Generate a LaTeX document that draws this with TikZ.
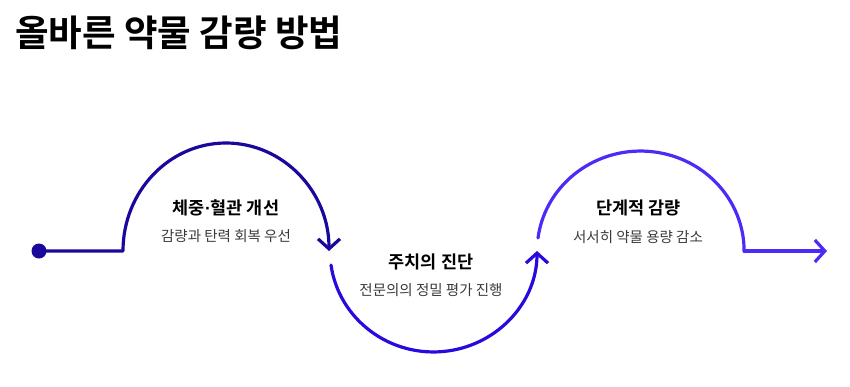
\documentclass[tikz,border=0pt]{standalone}
\usepackage{fontspec}
\setmainfont{Noto Sans CJK KR}[BoldFont={Noto Sans CJK KR Bold}]
\newfontfamily\latinfont{Liberation Sans}
\usetikzlibrary{arrows.meta}
\definecolor{cA}{RGB}{26,8,156}
\definecolor{cB}{RGB}{38,10,222}
\definecolor{cC}{RGB}{74,44,246}
\definecolor{subgray}{RGB}{58,58,58}
\tikzset{
  flow/.style={line width=3.2pt, line cap=round, line join=round},
  tip/.style={-{Straight Barb[length=10pt,width=22pt,line width=3.2pt]}},
  headtxt/.style={font=\bfseries\fontsize{17.5}{20}\selectfont, text=black, inner sep=0pt},
  subtxt/.style={font=\fontsize{14.5}{17}\selectfont, text=subgray, inner sep=0pt},
}
\begin{document}
\begin{tikzpicture}[x=1pt,y=-1pt]
\useasboundingbox (0,0) rectangle (850,386);
% title
\node[anchor=west, inner sep=0pt, font=\bfseries\fontsize{36.5}{40}\selectfont] (title) at (15,33) {올바른 약물 감량 방법};
% path points
\node[circle, fill=cA, draw=none, minimum size=15pt, inner sep=0pt] (start) at (39,251) {};
\coordinate (a1) at (123,251);
\coordinate (a2s) at (331,265);
\coordinate (a3s) at (538,238);
\coordinate (a4) at (744,251);
\coordinate (endp) at (827,251);
% segment 1
\draw[flow, cA, tip] (start.center) -- (a1) arc[start angle=180, end angle=360, x radius=103, y radius=108];
% segment 2
\draw[flow, cB, tip] (a2s) arc[start angle=172, end angle=0, x radius=103.5, y radius=101];
% segment 3
\draw[flow, cC] (a3s) arc[start angle=187.5, end angle=360, x radius=103.5, y radius=100] -- (a4);
\draw[flow, cC, tip] (a4) -- (endp);
% labels
\node[headtxt] (h1) at (226,208) {체중{\latinfont\bfseries ·}혈관 개선};
\node[subtxt] (s1) at (226,236) {감량과 탄력 회복 우선};
\node[headtxt] (h2) at (431,262) {주치의 진단};
\node[subtxt] (s2) at (431,290) {전문의의 정밀 평가 진행};
\node[headtxt] (h3) at (638.5,208) {단계적 감량};
\node[subtxt] (s3) at (638,237) {서서히 약물 용량 감소};
\end{tikzpicture}
\end{document}
